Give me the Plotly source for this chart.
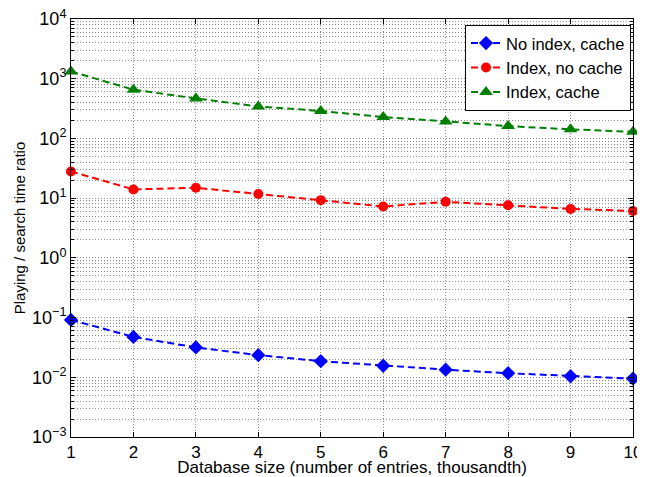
import plotly.graph_objects as go

sizes = [1, 2, 3, 4, 5, 6, 7, 8, 9, 10]
no_index_cache = [0.0915, 0.0475, 0.0316, 0.0235, 0.0186, 0.0156, 0.0134, 0.0117, 0.0104, 0.0095]
index_no_cache = [28, 14, 14.9, 11.7, 9.25, 7.25, 8.7, 7.6, 6.6, 6.1]
index_cache = [1320, 655, 468, 343, 288, 228, 193, 161, 142, 129]

y_tick_vals = [1e-3, 1e-2, 1e-1, 1, 10, 100, 1000, 10000]
y_tick_text = ["10<sup>−3</sup>", "10<sup>−2</sup>", "10<sup>−1</sup>", "10<sup>0</sup>",
               "10<sup>1</sup>", "10<sup>2</sup>", "10<sup>3</sup>", "10<sup>4</sup>"]
minor_vals = [m * 10 ** e for e in range(-3, 4) for m in range(2, 10)]

FONT = "Liberation Sans, Arial, Helvetica, sans-serif"
GRID = "#8a8a8a"
GDASH = "1px,2px"

fig = go.Figure()
series = [
    ("No index, cache", no_index_cache, "#0000ff", "diamond", 11),
    ("Index, no cache", index_no_cache, "#ff0000", "circle", 10),
    ("Index, cache", index_cache, "#008000", "triangle-up", 12),
]
for name, ys, color, sym, size in series:
    fig.add_trace(go.Scatter(
        x=sizes, y=ys, name=name, mode="lines+markers",
        line=dict(color=color, width=2, dash="7px,4px"),
        marker=dict(symbol=sym, size=size, color=color),
        cliponaxis=False,
    ))

# The page body adds an 8px offset, so the figure is 8px smaller than the window.
fig.update_layout(
    width=637, height=469,
    margin=dict(l=63, r=12, t=11, b=40, autoexpand=False),
    paper_bgcolor="white", plot_bgcolor="white",
    font=dict(family=FONT, size=16, color="black"),
    showlegend=True,
    legend=dict(
        x=0.9965, y=0.986, xanchor="right", yanchor="top",
        bgcolor="white", bordercolor="black", borderwidth=1,
        font=dict(size=16.5), tracegroupgap=0, itemwidth=30,
    ),
)
fig.update_xaxes(
    range=[1, 10], tickvals=sizes, ticks="inside", ticklen=5, tickcolor="black",
    showline=True, linecolor="black", linewidth=1, mirror="allticks",
    showgrid=True, gridcolor=GRID, griddash=GDASH, gridwidth=1,
    zeroline=False, automargin=False, ticklabeloverflow="allow",
    title=dict(text="Database size (number of entries, thousandth)", font=dict(size=17), standoff=0),
    tickfont=dict(size=17),
)
fig.update_yaxes(
    type="log", range=[-3, 4], tickvals=y_tick_vals, ticktext=y_tick_text,
    ticks="inside", ticklen=5, tickcolor="black",
    showline=True, linecolor="black", linewidth=1, mirror="allticks",
    showgrid=True, gridcolor=GRID, griddash=GDASH, gridwidth=1,
    zeroline=False, automargin=False, ticklabeloverflow="allow",
    minor=dict(tickmode="array", tickvals=minor_vals, ticks="inside", ticklen=3,
               tickcolor="black", showgrid=True, gridcolor=GRID, griddash=GDASH, gridwidth=1),
    title=dict(text="Playing / search time ratio", font=dict(size=15), standoff=2),
    tickfont=dict(size=18),
)
fig.write_html("out.html")
